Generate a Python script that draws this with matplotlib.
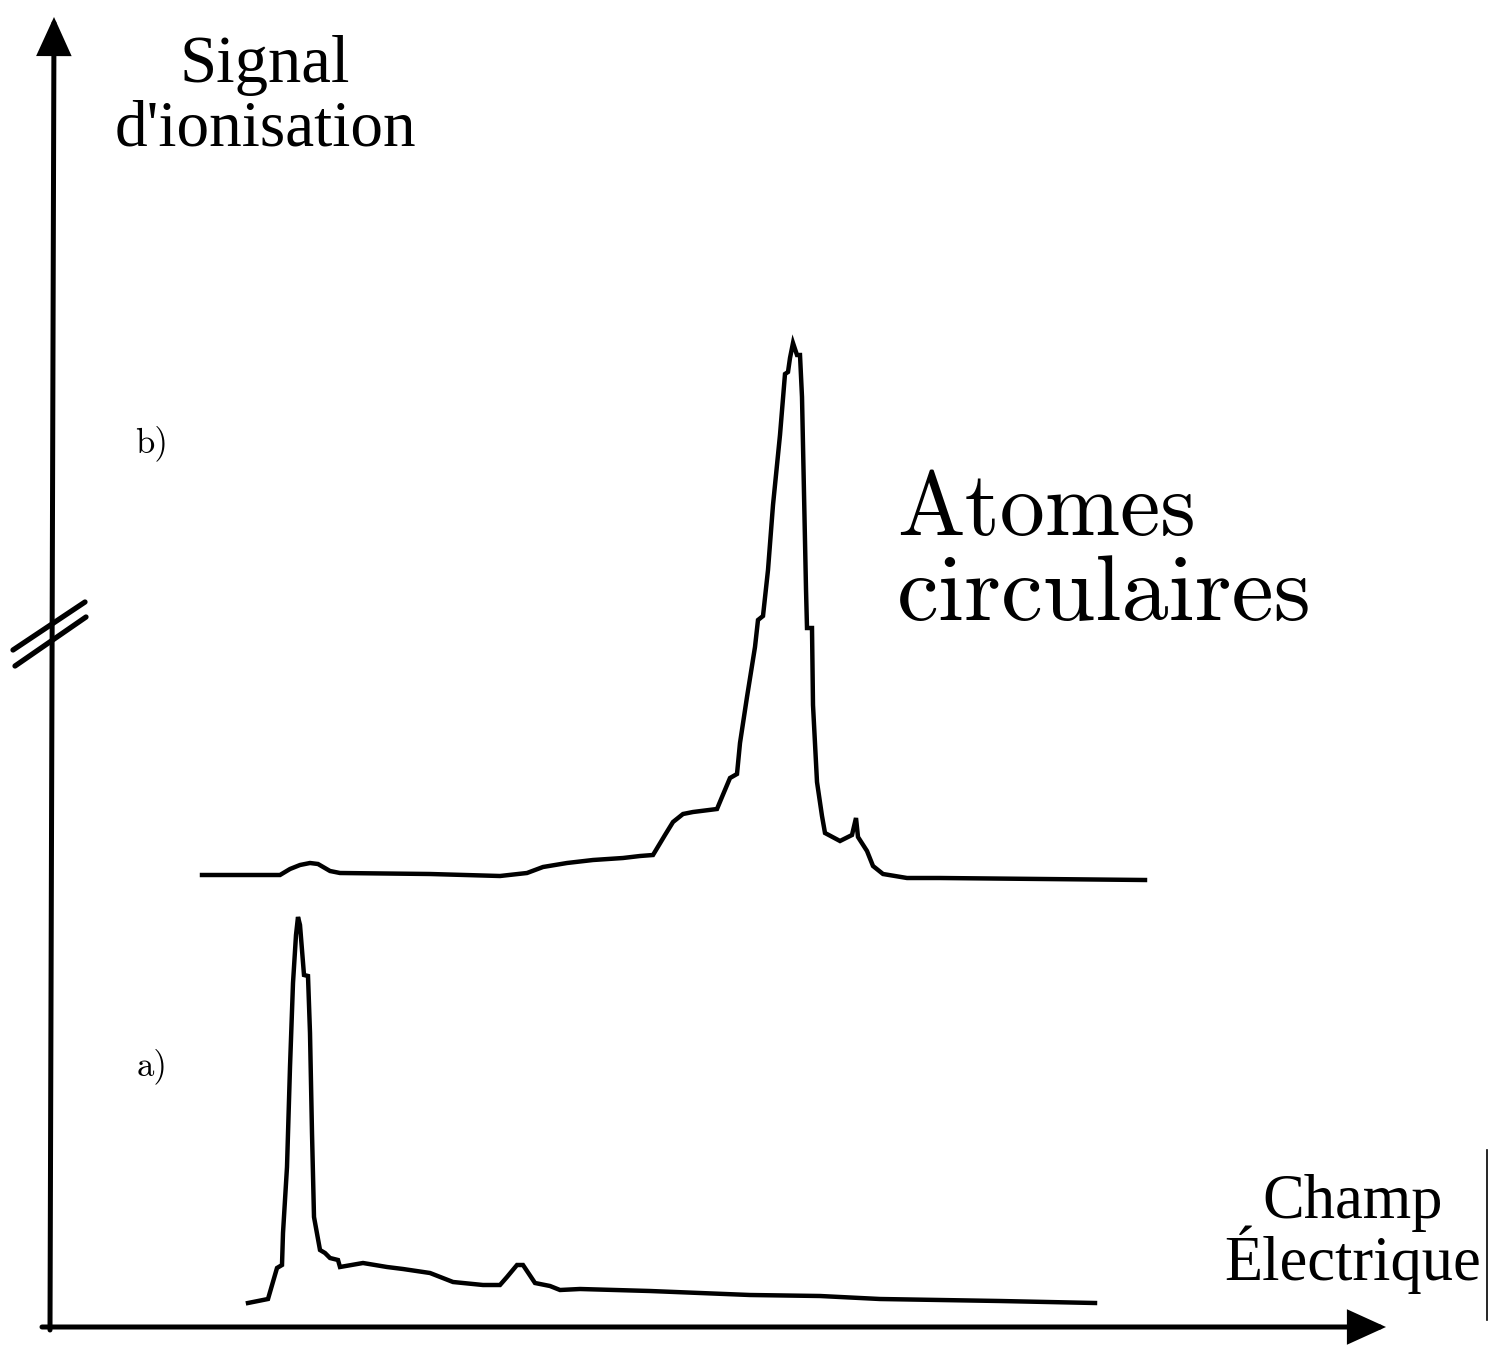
########################################################################
# Spectres d'ionisation par champ : a) niveau de depart, b) atomes
# circulaires. Les deux courbes sont decalees (axe coupe).
########################################################################

import numpy as np
import matplotlib.pyplot as plt

### Donnees ############################################################
#Champ electrique (u.a.) et signal (u.a.) de la courbe a)
ChampA=[19.8,21.8,22.7,23.2,23.3,23.7,24.0,24.3,24.6,24.8,25.0,25.2,
	25.4,25.8,26.0,26.2,26.4,27.0,27.5,28.0,28.8,29.0,31.3,33.7,35.3,
	38.0,40.3,43.3,45.0,45.7,46.7,47.3,48.5,50.0,51.0,53.0,60.0,65.0,
	70.0,77.0,83.0,95.0,104.5]
SignalA=[2.4,2.8,5.9,6.2,9.4,16.0,26.0,34.4,39.2,41.0,40.2,37.7,
	35.2,35.1,29.4,19.4,11.0,7.7,7.4,6.9,6.7,6.0,6.4,6.0,5.8,
	5.4,4.5,4.2,4.2,5.0,6.2,6.2,4.4,4.1,3.7,3.8,3.6,3.4,
	3.2,3.1,2.8,2.6,2.4]

#Champ electrique (u.a.) et signal (u.a.) de la courbe b)
ChampB=[15.2,23.0,24.0,25.0,26.0,26.8,28.0,29.0,38.0,45.0,47.7,49.3,
	51.7,54.3,57.3,59.0,60.3,61.5,62.3,63.3,64.3,66.7,67.2,68.0,68.7,
	69.0,69.7,70.5,70.8,71.3,71.8,72.3,73.0,73.5,73.8,74.0,74.3,74.7,
	75.0,75.2,75.4,75.6,75.7,76.2,76.3,76.7,77.2,77.5,79.0,80.2,80.6,
	80.8,81.7,82.3,83.3,85.7,89.0,109.5]
SignalB=[0.0,0.0,0.6,1.0,1.2,1.1,0.4,0.2,0.1,-0.1,0.2,0.8,
	1.2,1.5,1.7,1.9,2.0,4.0,5.3,6.1,6.3,6.6,7.8,9.7,10.1,
	13.2,17.8,22.8,25.5,25.9,30.5,37.0,44.0,50.1,50.3,51.7,53.2,52.0,
	52.0,47.8,38.2,28.6,24.7,24.7,17.0,9.3,5.9,4.2,3.4,4.0,5.7,
	3.8,2.4,0.9,0.1,-0.3,-0.3,-0.5]
#Decalage vertical de la courbe b)
OffsetB=45.2
### Fin donnees ########################################################

#Figure en pleine page, sans cadre
fig=plt.figure(figsize=(14.89,13.56),dpi=100)
ax=fig.add_axes([0,0,1,1])
ax.set_xlim(-5.0,143.9)
ax.set_ylim(-2.9,132.7)
ax.axis('off')

#-----------------------------------------------------------------------
#Courbes
ax.plot(ChampA,SignalA,color='black',lw=3.2,solid_joinstyle='miter')
ax.plot(ChampB,np.array(SignalB)+OffsetB,color='black',lw=3.2,
	solid_joinstyle='miter')

#-----------------------------------------------------------------------
#Axes avec fleches pleines
arrow=dict(arrowstyle='-|>,head_length=1.1,head_width=0.5',
	color='black',lw=3.6,mutation_scale=20,shrinkA=0,shrinkB=0,
	joinstyle='miter')
ax.annotate('',xy=(133.6,0.0),xytext=(-0.8,0.0),arrowprops=arrow)
ax.annotate('',xy=(0.4,131.0),xytext=(0.0,-0.3),arrowprops=arrow)

#Coupure de l'axe vertical
ax.plot([-3.7,3.5],[67.7,72.5],color='black',lw=3.8,
	solid_capstyle='round')
ax.plot([-3.5,3.6],[66.1,71.0],color='black',lw=3.8,
	solid_capstyle='round')

#Trait vertical au bord droit
ax.plot([143.7,143.7],[0.7,17.7],color='black',lw=1.2)

#-----------------------------------------------------------------------
#Textes
serif='Liberation Serif'
ax.text(21.5,124.5,'Signal',family=serif,fontsize=48,ha='center',
	va='baseline')
ax.text(21.5,118.2,"d'ionisation",family=serif,fontsize=47,
	ha='center',va='baseline')
ax.text(130.3,10.9,'Champ',family=serif,fontsize=45,ha='center',
	va='baseline')
ax.text(130.3,4.7,'Électrique',family=serif,fontsize=45,ha='center',
	va='baseline')

ax.text(8.5,87.5,'b)',family='cmr10',fontsize=25,va='baseline')
ax.text(8.7,25.2,'a)',family='cmr10',fontsize=25,va='baseline')

ax.text(84.7,79.2,'Atomes',family='cmr10',fontsize=65,va='baseline')
ax.text(84.7,70.7,'circulaires',family='cmr10',fontsize=68,
	va='baseline')

#-----------------------------------------------------------------------
plt.savefig('out.png',dpi=100)
